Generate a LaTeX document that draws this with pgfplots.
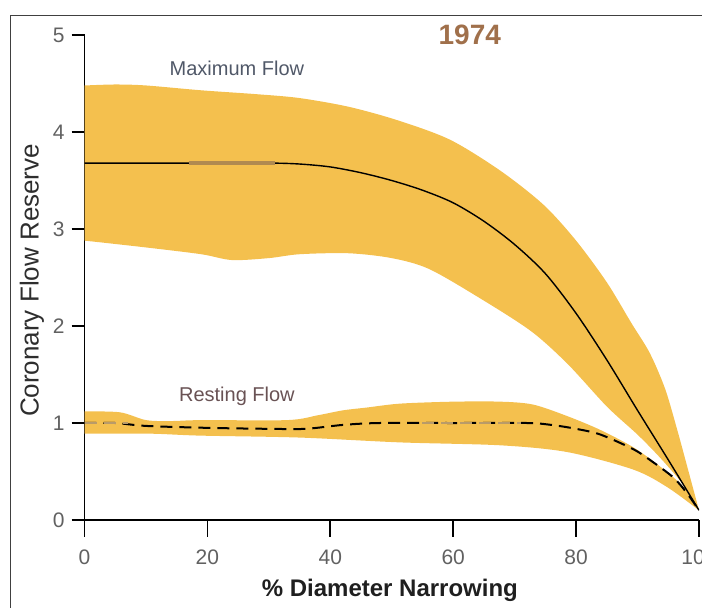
\documentclass[border=0pt]{standalone}
\usepackage{fontspec}
\setmainfont{Liberation Sans}
\usepackage{pgfplots}
\pgfplotsset{compat=1.18}
\usepgfplotslibrary{fillbetween}
\definecolor{band}{RGB}{244,192,78}
\definecolor{yeartxt}{RGB}{160,112,75}
\definecolor{maxtxt}{RGB}{80,88,104}
\definecolor{resttxt}{RGB}{105,82,84}
\definecolor{tanline}{RGB}{176,138,80}
\definecolor{tandash}{RGB}{185,155,105}
\begin{document}
\begin{tikzpicture}
\begin{axis}[
  at={(42.25pt,43.5pt)}, anchor=south west,
  width=307.25pt, height=242.5pt, scale only axis,
  xmin=0, xmax=100, ymin=0, ymax=5,
  axis x line=bottom, axis y line=left,
  axis line style={-, line width=0.9pt, black},
  xtick align=outside, ytick align=outside,
  major tick length=6.5pt,
  xtick style={draw=black, line width=0.9pt},
  ytick style={draw=black, line width=0.9pt},
  xtick={0,20,...,100}, ytick={0,1,...,5},
  minor tick num=0,
  ticklabel style={font=\fontsize{10.5}{12}\selectfont, text=black!62},
  xticklabel style={yshift=-5pt},
  /pgf/number format/assume math mode=true,
  xlabel={\% Diameter Narrowing},
  xlabel style={at={(axis description cs:0.497,-0.146)}, anchor=center,
    font=\fontsize{12}{14}\selectfont\bfseries, text=black!88},
  ylabel={Coronary Flow Reserve},
  ylabel style={at={(axis description cs:-0.0855,0.494)}, anchor=center,
    font=\fontsize{13}{15}\selectfont, text=black!82},
  clip mode=individual,
]
% Maximum flow band
\addplot[name path=maxU, draw=none, smooth, tension=0.5] coordinates {
(-1,4.48) (0,4.48) (5,4.49) (10,4.48) (19,4.43) (28,4.39) (35,4.35) (43,4.26)
(51,4.12) (59.5,3.92) (67.7,3.60) (74.7,3.25) (80,2.88) (85,2.45) (89,2.03)
(92,1.72) (94.5,1.35) (96.5,0.92) (98.3,0.50) (100,0.10)};
\addplot[name path=maxL, draw=none, smooth, tension=0.5] coordinates {
(-1,2.88) (0,2.88) (10,2.81) (19,2.74) (24,2.68) (30,2.70) (35,2.74) (43,2.75)
(50,2.70) (56,2.59) (64,2.30) (72.6,1.95) (78.6,1.61) (85,1.17) (90,0.88)
(93.7,0.64) (97.5,0.36) (100,0.10)};
\addplot[band, draw=none] fill between[of=maxU and maxL];
% Resting flow band
\addplot[name path=resU, draw=none, smooth, tension=0.5] coordinates {
(-1,1.12) (0,1.12) (5.8,1.11) (10,1.03) (14,1.02) (19,1.03) (33,1.03)
(38,1.08) (42,1.13) (46,1.16) (51.4,1.20) (60,1.22) (67.7,1.22) (73,1.19)
(78.6,1.07) (83.9,0.93) (89.3,0.75) (93.7,0.55) (97.5,0.34) (100,0.10)};
\addplot[name path=resL, draw=none, smooth, tension=0.5] coordinates {
(-1,0.89) (0,0.89) (10.7,0.89) (18.8,0.87) (35,0.85) (51.4,0.80) (67.7,0.77)
(78.6,0.70) (89.3,0.52) (94.8,0.34) (100,0.10)};
\addplot[band, draw=none] fill between[of=resU and resL];
% Maximum flow mean (solid)
\addplot[black, line width=0.7pt, smooth, tension=0.5] coordinates {
(0,3.68) (10,3.68) (20,3.68) (30,3.68) (35,3.67) (40,3.64) (45,3.58) (50,3.50)
(55,3.40) (60,3.27) (65,3.08) (70,2.84) (75,2.54) (80,2.13) (85,1.65) (90,1.13)
(95,0.62) (100,0.10)};
\addplot[tanline, line width=1.6pt] coordinates {(17,3.68) (31,3.68)};
% Resting flow mean (dashed)
\addplot[black, line width=1pt, dash pattern=on 6pt off 3.5pt, smooth, tension=0.5] coordinates {
(0,1.00) (5,1.00) (10,0.97) (20,0.95) (30,0.94) (36,0.94) (42,0.98) (48,1.00)
(60,1.00) (72,1.00) (76,0.98) (80,0.94) (84,0.88) (89.3,0.73) (92,0.62)
(95.8,0.44) (98,0.28) (100,0.10)};
\addplot[tandash, line width=1.2pt, dash pattern=on 6pt off 3.5pt] coordinates {(0,1.00) (7,1.00)};
\addplot[tandash, line width=1.2pt, dash pattern=on 6pt off 3.5pt] coordinates {(55,1.00) (71,1.00)};
% longer outward x tick marks
\pgfplotsinvokeforeach{0,20,40,60,80,100}{
  \draw[black, line width=0.9pt] (axis cs:#1,0) -- ++(0pt,-8.5pt);
}
% Annotations
\node[font=\fontsize{14}{16}\selectfont\bfseries, text=yeartxt] at (axis cs:62.7,5.0) {1974};
\node[font=\fontsize{10}{12}\selectfont, text=maxtxt] at (axis cs:24.8,4.66) {Maximum Flow};
\node[font=\fontsize{10}{12}\selectfont, text=resttxt] at (axis cs:24.8,1.27) {Resting Flow};
\end{axis}
\draw[line width=0.5pt, black!75] (5pt,-5pt) -- (5pt,296pt) -- (360pt,296pt);
\pgfresetboundingbox
\path[use as bounding box] (0pt,0pt) rectangle (351pt,303.5pt);
\end{tikzpicture}
\end{document}
